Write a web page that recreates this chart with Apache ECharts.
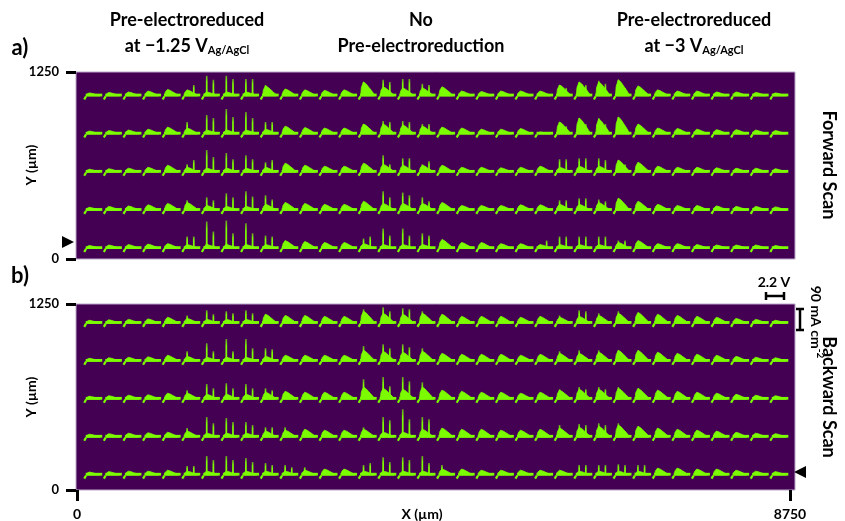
<!DOCTYPE html>
<html>
<head>
<meta charset="utf-8">
<script src="https://cdn.jsdelivr.net/npm/echarts@6/dist/echarts.min.js"></script>
<style>
  html, body { margin: 0; padding: 0; background: #fff; }
  #chart { width: 845px; height: 521px; }
</style>
</head>
<body>
<div id="chart"></div>
<script>
// measurement grid (µm)
var colX = [0, 250, 500, 750, 1000, 1250, 1500, 1750, 2000, 2250, 2500, 2750,
            3000, 3250, 3500, 3750, 4000, 4250, 4500, 4750, 5000, 5250, 5500, 5750,
            6000, 6250, 6500, 6750, 7000, 7250, 7500, 7750, 8000, 8250, 8500, 8750];
var rowYA = [1090, 835, 580, 325, 70];
var rowYB = [1120, 865, 610, 355, 100];

// a) forward scan, current in mA cm-2 : broad wave, first sharp peak, second sharp peak
var humpA = [
  [13,15,17,21,28,26,17,17,17,43,30,26,24,26,60,39,34,34,39,21,19,21,21,21,47,60,60,69,43,26,21,21,17,17,15,13],
  [13,15,17,21,30,26,17,17,17,21,34,28,26,26,43,43,39,34,30,26,21,21,24, 9,52,69,65,73,43,26,24,21,19,19,17,15],
  [13,15,17,21,30,21,17,17,17,21,39,30,26,26,39,34,30,30,30,21,21,19,21,26,21,26,26,52,43,26,21,21,19,17,17,15],
  [13,17,19,24,30,34,21,17,17,26,34,30,26,26,39,30,30,30,34,21,21,21,24,24,26,26,34,52,39,26,21,21,19,17,17,15],
  [13,15,17,19,21,17,17,17,17,17,34,30,26,26,21,17,17,17,39,26,26,21,21,17,17,17,17,26,34,21,21,17,15,15,15,13]
];
var peak1A = [
  [0,0,0,0,0, 0, 86, 86, 73,47,0,0,0,0,60,69,73,52,0,0,0,0,0,0,47,60,65,69,0,0,0,0,0,0,0,0],
  [0,0,0,0,0,52, 82,108, 95,52,0,0,0,0,43,56,56,43,0,0,0,0,0,0,52,69,69,73,0,0,0,0,0,0,0,0],
  [0,0,0,0,0,34, 95, 82, 73,43,0,0,0,0, 0,73,60,34,0,0,0,0,0,0,56,60,60,52,0,0,0,0,0,0,0,0],
  [0,0,0,0,0,43, 56, 73, 82,65,0,0,0,0, 0,82,77,56,0,0,0,0,0,0,43,52,47,52,0,0,0,0,0,0,0,0],
  [0,0,0,0,0,52,116,120,108,56,0,0,0,0,43,86,86,65,0,0,0,0,0,0,52,52,52,34,0,0,0,0,0,0,0,0]
];
var peak2A = [
  [0,0,0,0,0,47,69,73,73, 0,0,0,0,0, 0,60,73,47,0,0,0,0,0, 0,34,47,52,34,0,0,0,0,0,0,0,0],
  [0,0,0,0,0, 0,69,73,69,52,0,0,0,0, 0,52,52,43,0,0,0,0,0, 0,34,43,43, 0,0,0,0,0,0,0,0,0],
  [0,0,0,0,0,52,65,56,56,52,0,0,0,0, 0,34,60,47,0,0,0,0,0, 0,56,60,52,34,0,0,0,0,0,0,0,0],
  [0,0,0,0,0, 0,43,56,60,47,0,0,0,0, 0,56,65,39,0,0,0,0,0, 0,43,52,39, 0,0,0,0,0,0,0,0,0],
  [0,0,0,0,0,52,73,65,65,52,0,0,0,0,52,56,56,56,0,0,0,0,0,34,52,52,52,34,0,0,0,0,0,0,0,0]
];

// b) backward scan
var humpB = [
  [13,15,17,19,26,21,17,17,17,39,34,34,30,30,52,43,39,43,39,30,30,30,26,30,26,30,34,43,47,39,34,30,26,21,17,13],
  [13,15,17,19,26,21,17,17,17,21,26,26,26,26,47,43,39,43,34,30,30,30,26,30,34,34,39,47,47,39,34,30,26,21,17,15],
  [13,15,17,19,26,26,21,21,21,30,34,30,30,30,52,47,43,52,39,34,30,30,26,30,39,43,43,47,47,39,34,30,26,21,17,15],
  [13,15,17,19,21,26,17,17,17,26,30,34,30,30,34,21,21,34,39,34,34,30,30,34,39,43,47,52,47,39,34,30,26,21,17,15],
  [13,15,17,17,21,17,17,17,17,17,17,21,26,26,17,17,17,17,26,26,21,21,21,21,21,17,17,17,17,30,30,26,26,21,17,15]
];
var peak1B = [
  [0,0,0,0,0,34,56,52,56,39, 0, 0,0,0,60,69, 65,52, 0,0,0,0,0,0,34,56,43,52, 0,0,0,0,0,0,0,0],
  [0,0,0,0,0,43,77,95,95,56, 0, 0,0,0,65,73, 73,56, 0,0,0,0,0,0,43,47,47,47, 0,0,0,0,0,0,0,0],
  [0,0,0,0,0,39,65,69,65,47, 0, 0,0,0,86,95, 95,73, 0,0,0,0,0,0,43,52,52,52, 0,0,0,0,0,0,0,0],
  [0,0,0,0,0,39,86,82,65,43,43, 0,0,0,43,86,120,86, 0,0,0,0,0,0,52,56,60,60, 0,0,0,0,0,0,0,0],
  [0,0,0,0,0,39,82,82,73,52,43,34,0,0,43,77, 77,82,43,0,0,0,0,0,0,43,43,47,43,0,0,0,0,0,0,0]
];
var peak2B = [
  [0,0,0,0,0, 0,39,43,43, 0, 0,0,0,0, 0,52,60, 0,0,0,0,0,0,0, 0,52, 0, 0, 0,0,0,0,0,0,0,0],
  [0,0,0,0,0, 0,43,43,56,52, 0,0,0,0, 0,56,60, 0,0,0,0,0,0,0, 0, 0, 0, 0, 0,0,0,0,0,0,0,0],
  [0,0,0,0,0, 0,47,47,47,39, 0,0,0,0, 0,56,77, 0,0,0,0,0,0,0, 0,43,43, 0, 0,0,0,0,0,0,0,0],
  [0,0,0,0,0, 0,60,65,52,43, 0,0,0,0, 0,73,77,77,0,0,0,0,0,0, 0,52,52, 0, 0,0,0,0,0,0,0,0],
  [0,0,0,0,0,39,65,65,56,43,34,0,0,0,52,56,65,52,0,0,0,0,0,0, 0,43,43,43,43,0,0,0,0,0,0,0]
];

var xTicks = [0, 8750];
var yTicks = [0, 1250];

var GREEN = '#7cfc00';
var PURPLE = '#440154';
var PX_PER_V = 18 / 2.2;   // horizontal scale bar: 2.2 V
var PX_PER_MA = 21 / 90;   // vertical scale bar: 90 mA cm-2
var FONT = 'Lato';

function cells(rowY, hump, p1, p2) {
  var out = [];
  for (var r = 0; r < rowY.length; r++) {
    for (var c = 0; c < colX.length; c++) {
      out.push([colX[c], rowY[r], hump[r][c], p1[r][c], p2[r][c]]);
    }
  }
  return out;
}

function spikeFill() {
  return new echarts.graphic.LinearGradient(0, 0, 0, 1, [
    { offset: 0, color: 'rgba(124,252,0,0.6)' },
    { offset: 0.3, color: GREEN },
    { offset: 1, color: GREEN }
  ]);
}

function renderGlyph(params, api) {
  var base = api.coord([api.value(0), api.value(1)]);
  var w = 2.2 * PX_PER_V;
  var x0 = base[0] - w / 2, y0 = base[1];
  function P(u, v) { return [x0 + u * w, y0 - v]; }
  var h = api.value(2) * PX_PER_MA;
  var a = api.value(3) * PX_PER_MA;
  var b = api.value(4) * PX_PER_MA;
  var kids = [
    { type: 'polyline', shape: { points: [P(0, -3.5), P(0.1, -0.3)] },
      style: { stroke: GREEN, lineWidth: 2.2, fill: null } },
    { type: 'polyline', shape: { points: [P(0.08, 0.9), P(1, 0.9)] },
      style: { stroke: GREEN, lineWidth: 2.8, fill: null } },
    { type: 'polygon',
      shape: { points: [P(0.11, 0), P(0.15, h * 0.6), P(0.27, h), P(0.42, h * 0.85),
                        P(0.56, h * 0.62), P(0.7, h * 0.4), P(0.8, h * 0.22), P(0.88, 1.2), P(0.88, 0)] },
      style: { fill: GREEN, stroke: GREEN, lineWidth: 0.8, lineJoin: 'round' } }
  ];
  function spike(u, s) {
    return { type: 'polygon',
      shape: { points: [P(u - 0.1, 0), P(u - 0.05, s * 0.2), P(u - 0.045, s), P(u + 0.045, s),
                        P(u + 0.05, s * 0.2), P(u + 0.11, 0)] },
      style: { fill: spikeFill() } };
  }
  if (a > 0) kids.push(spike(0.27, a));
  if (b > 0) kids.push(spike(0.64, b));
  return { type: 'group', children: kids };
}

var txt = { fill: '#000', fontWeight: 'bold', fontFamily: FONT };
function label(text, x, y, size, extra) {
  return Object.assign({ type: 'text', x: x, y: y,
    style: Object.assign({ text: text, fontSize: size, textAlign: 'center', textVerticalAlign: 'middle' }, txt) }, extra || {});
}

function yAxisFor(grid) {
  return {
    gridIndex: grid, type: 'value', min: yTicks[0], max: yTicks[1], interval: yTicks[1],
    axisLine: { show: false, onZero: false },
    axisTick: { show: true, inside: false, length: 10, lineStyle: { color: '#000', width: 3 } },
    axisLabel: { margin: 17, fontSize: 13, showMinLabel: true, showMaxLabel: true,
                 color: '#000', fontWeight: 'bold', fontFamily: FONT,
                 formatter: function (v) { return String(v); } },
    splitLine: { show: false }
  };
}

var option = {
  animation: false,
  grid: [
    { left: 76, top: 72, width: 719, height: 187, show: true, backgroundColor: PURPLE,
      borderColor: '#b9a8c6', borderWidth: 1 },
    { left: 76, top: 304, width: 719, height: 186, show: true, backgroundColor: PURPLE,
      borderColor: '#b9a8c6', borderWidth: 1 },
    { left: 77, top: 489, width: 713, height: 1, show: false }
  ],
  xAxis: [
    { gridIndex: 0, type: 'value', min: -220, max: 8950, show: false, axisLine: { onZero: false } },
    { gridIndex: 1, type: 'value', min: -220, max: 8950, show: false, axisLine: { onZero: false } },
    { gridIndex: 2, type: 'value', min: xTicks[0], max: xTicks[1], interval: xTicks[1],
      axisLine: { show: false, onZero: false },
      axisTick: { show: true, length: 11, lineStyle: { color: '#000', width: 3 } },
      axisLabel: { margin: 17, fontSize: 14, showMinLabel: true, showMaxLabel: true,
                   color: '#000', fontWeight: 'bold', fontFamily: FONT,
                   formatter: function (v) { return String(v); } },
      splitLine: { show: false } }
  ],
  yAxis: [
    yAxisFor(0),
    yAxisFor(1),
    { gridIndex: 2, type: 'value', show: false, axisLine: { onZero: false } }
  ],
  series: [
    { type: 'custom', name: 'Forward Scan', xAxisIndex: 0, yAxisIndex: 0,
      renderItem: renderGlyph, data: cells(rowYA, humpA, peak1A, peak2A) },
    { type: 'custom', name: 'Backward Scan', xAxisIndex: 1, yAxisIndex: 1,
      renderItem: renderGlyph, data: cells(rowYB, humpB, peak1B, peak2B) }
  ],
  graphic: [
    label('a)', 20, 48, 22),
    label('b)', 20, 276, 22),
    label('Pre-electroreduced', 187, 20, 18),
    { type: 'text', x: 187, y: 46, style: Object.assign({ text: 'at \u22121.25 V{s|Ag/AgCl}', fontSize: 18, textAlign: 'center', textVerticalAlign: 'middle',
        rich: { s: { fontSize: 11, fontWeight: 'bold', fontFamily: FONT, padding: [9, 0, 0, 0] } } }, txt) },
    label('No', 421, 20, 18),
    label('Pre-electroreduction', 421, 46, 18),
    label('Pre-electroreduced', 694, 20, 18),
    { type: 'text', x: 694, y: 46, style: Object.assign({ text: 'at \u22123 V{s|Ag/AgCl}', fontSize: 18, textAlign: 'center', textVerticalAlign: 'middle',
        rich: { s: { fontSize: 11, fontWeight: 'bold', fontFamily: FONT, padding: [9, 0, 0, 0] } } }, txt) },
    label('Y (µm)', 31, 165, 14, { rotation: Math.PI / 2 }),
    label('Y (µm)', 31, 397, 14, { rotation: Math.PI / 2 }),
    label('X (µm)', 422, 514, 14),
    label('Forward Scan', 829, 165, 18, { rotation: -Math.PI / 2 }),
    label('Backward Scan', 829, 397, 18, { rotation: -Math.PI / 2 }),
    // scale bars
    label('2.2 V', 774, 282, 14),
    { type: 'group', children: [
      { type: 'line', shape: { x1: 766, y1: 296, x2: 766 + 2.2 * PX_PER_V, y2: 296 }, style: { stroke: '#000', lineWidth: 2.5 } },
      { type: 'line', shape: { x1: 766, y1: 292, x2: 766, y2: 300 }, style: { stroke: '#000', lineWidth: 2.5 } },
      { type: 'line', shape: { x1: 766 + 2.2 * PX_PER_V, y1: 292, x2: 766 + 2.2 * PX_PER_V, y2: 300 }, style: { stroke: '#000', lineWidth: 2.5 } }
    ] },
    { type: 'group', children: [
      { type: 'line', shape: { x1: 800, y1: 309, x2: 800, y2: 309 + 90 * PX_PER_MA }, style: { stroke: '#000', lineWidth: 2.5 } },
      { type: 'line', shape: { x1: 796, y1: 309, x2: 804, y2: 309 }, style: { stroke: '#000', lineWidth: 2.5 } },
      { type: 'line', shape: { x1: 796, y1: 309 + 90 * PX_PER_MA, x2: 804, y2: 309 + 90 * PX_PER_MA }, style: { stroke: '#000', lineWidth: 2.5 } }
    ] },
    { type: 'text', x: 816, y: 322, rotation: -Math.PI / 2,
      style: Object.assign({ text: '90 mA cm{p|-2}', fontSize: 14, textAlign: 'center', textVerticalAlign: 'middle',
        rich: { p: { fontSize: 10, fontWeight: 'bold', fontFamily: FONT, padding: [0, 0, 8, 0] } } }, txt) },
    // row markers
    { type: 'polygon', shape: { points: [[62, 236], [74, 242], [62, 248]] }, style: { fill: '#000' } },
    { type: 'polygon', shape: { points: [[806, 466], [794, 472], [806, 478]] }, style: { fill: '#000' } }
  ]
};

var myChart = echarts.init(document.getElementById('chart'), null, { renderer: 'canvas' });
myChart.setOption(option, true);
</script>
</body>
</html>
